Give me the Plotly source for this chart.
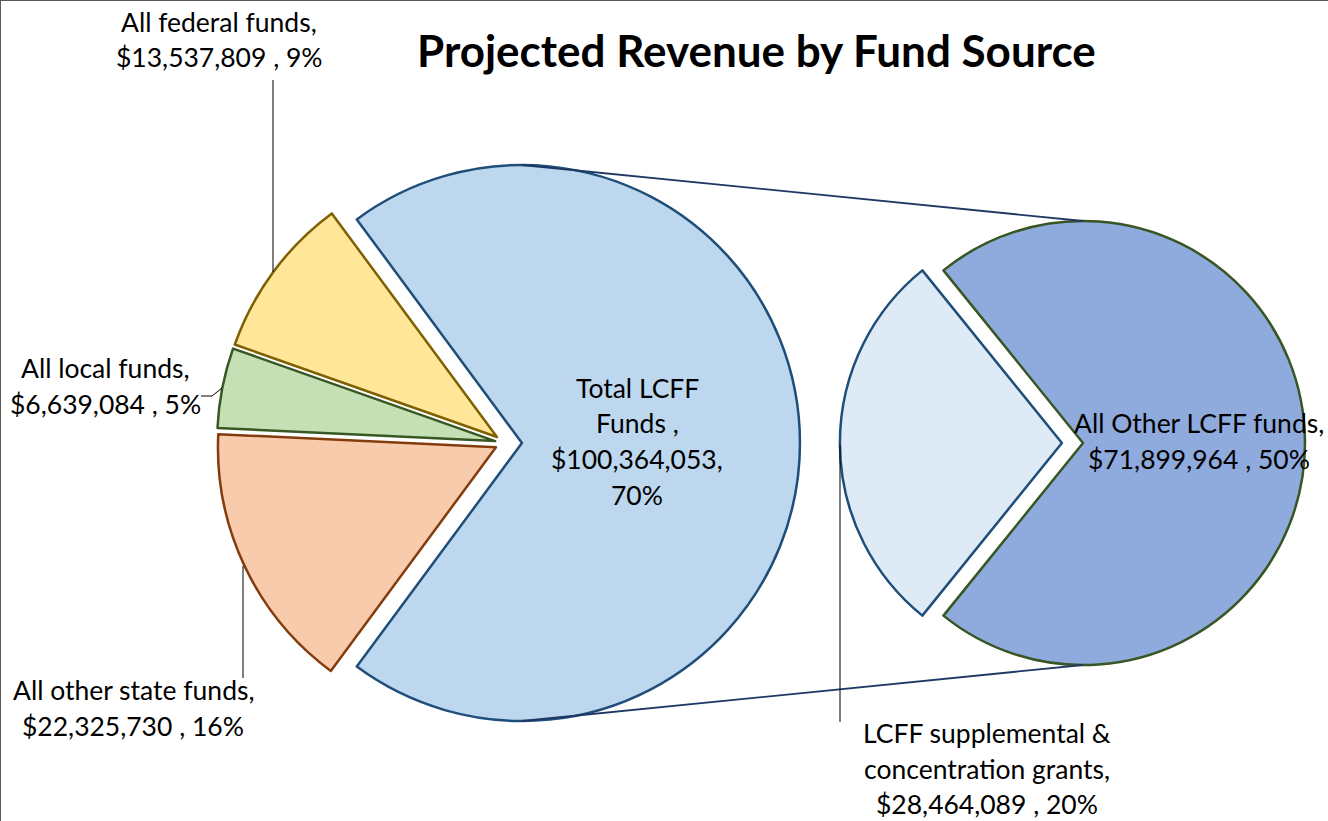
import plotly.graph_objects as go

W, H = 1328, 821

# ---------------- data ----------------
left_labels = ["Total LCFF Funds", "All other state funds", "All local funds", "All federal funds"]
left_values = [100364053, 22325730, 6639084, 13537809]
left_fill = ["#BDD7EE", "#F8CBAD", "#C5E0B4", "#FFE699"]
left_edge = ["#1F4E79", "#843C0C", "#385723", "#7F6000"]

right_labels = ["LCFF supplemental & concentration grants", "All Other LCFF funds"]
right_values = [28464089, 71899964]
right_fill = ["#DEEBF7", "#8FAADC"]
right_edge = ["#1F4E79", "#375623"]

title_text = "Projected Revenue by Fund Source"

total = sum(left_values)
pct = lambda v: round(100 * v / total)

# ---------------- geometry (pixels) ----------------
L_cx, L_cy, L_r = 505, 443, 278
L_pull = [0.061, 0.036, 0.036, 0.036]
R_cx, R_cy, R_r = 1081, 443, 222
R_pull = [0.086, 0.009]


def domain(cx, cy, r, pull):
    h = r * (1 + max(pull))
    return dict(x=[(cx - h) / W, (cx + h) / W], y=[1 - (cy + h) / H, 1 - (cy - h) / H])


px = lambda x: x / W
py = lambda y: 1 - y / H

lcff_deg = 360 * left_values[0] / total
supp_deg = 360 * right_values[0] / sum(right_values)

fig = go.Figure()
fig.add_trace(go.Pie(
    labels=left_labels, values=left_values, sort=False, direction="clockwise",
    rotation=90 - lcff_deg / 2, pull=L_pull,
    marker=dict(colors=left_fill, line=dict(color=left_edge, width=2.5)),
    textinfo="none", showlegend=False, domain=domain(L_cx, L_cy, L_r, L_pull),
))
fig.add_trace(go.Pie(
    labels=right_labels, values=right_values, sort=False, direction="clockwise",
    rotation=270 - supp_deg / 2 - 360, pull=R_pull,
    marker=dict(colors=right_fill, line=dict(color=right_edge, width=2.5)),
    textinfo="none", showlegend=False, domain=domain(R_cx, R_cy, R_r, R_pull),
))

shapes = []
# chart border (top and left visible)
shapes.append(dict(type="line", xref="paper", yref="paper", x0=0, x1=1.01, y0=1, y1=1,
                   line=dict(color="#595959", width=2)))
shapes.append(dict(type="line", xref="paper", yref="paper", x0=0, x1=0, y0=-0.01, y1=1,
                   line=dict(color="#595959", width=2)))

# connector lines between the pies
lcx = L_cx + L_pull[0] * L_r
rcx = R_cx + R_pull[1] * R_r
for s in (-1, 1):
    shapes.append(dict(type="line", xref="paper", yref="paper",
                       x0=px(lcx), y0=py(L_cy + s * L_r), x1=px(rcx), y1=py(R_cy + s * R_r),
                       line=dict(color="#1F3864", width=1.8)))

# leader lines
leaders = [
    [(273, 80), (273, 272)],
    [(201, 396), (212, 396), (222, 388)],
    [(243, 678), (243, 566)],
    [(840, 445), (840, 722)],
]
for pts in leaders:
    for (x0, y0), (x1, y1) in zip(pts[:-1], pts[1:]):
        shapes.append(dict(type="line", xref="paper", yref="paper",
                           x0=px(x0), y0=py(y0), x1=px(x1), y1=py(y1),
                           line=dict(color="#000000", width=1)))

fig.update_layout(shapes=shapes)

# ---------------- labels ----------------
FONT = "Lato"
FS = 26.5
LINE = 36


def money(v):
    return f"${v:,}"


label_blocks = [
    (["Total LCFF", "Funds ,", money(left_values[0]) + ",", f"{pct(left_values[0])}%"], 637, 388),
    ([left_labels[1] + ",", f"{money(left_values[1])} , {pct(left_values[1])}%"], 133, 690),
    ([left_labels[2] + ",", f"{money(left_values[2])} , {pct(left_values[2])}%"], 106, 368),
    ([left_labels[3] + ",", f"{money(left_values[3])} , {pct(left_values[3])}%"], 219, 22),
    (["LCFF supplemental &", "concentration grants,", f"{money(right_values[0])} , {pct(right_values[0])}%"], 987, 733),
    ([right_labels[1] + ",", f"{money(right_values[1])} , {pct(right_values[1])}%"], 1199, 423),
]

annotations = []
for lines, x, y0 in label_blocks:
    for i, t in enumerate(lines):
        annotations.append(dict(text=t, x=px(x), y=py(y0 + i * (LINE - 0.5)), xref="paper", yref="paper",
                                xanchor="center", yanchor="middle", showarrow=False,
                                font=dict(family=FONT, size=FS, color="#000000")))

annotations.append(dict(text="<b>" + title_text + "</b>", x=px(756), y=py(50), xref="paper", yref="paper",
                        xanchor="center", yanchor="middle", showarrow=False,
                        font=dict(family=FONT, size=44, color="#000000")))

fig.update_layout(
    annotations=annotations,
    width=W, height=H,
    margin=dict(l=0, r=0, t=0, b=0),
    paper_bgcolor="white", plot_bgcolor="white",
    showlegend=False,
)

fig.write_html("out.html", config={"displayModeBar": False},
               post_script="document.body.style.margin='0px';")
